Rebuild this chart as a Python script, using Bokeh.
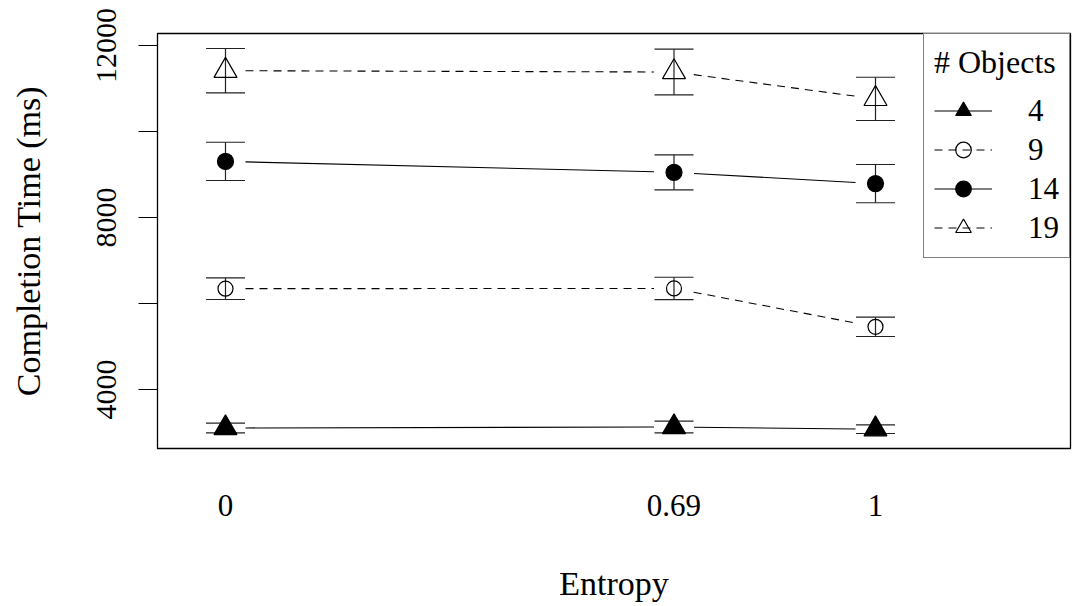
from bokeh.plotting import figure
from bokeh.models import (Range1d, FixedTicker, Whisker, ColumnDataSource,
                          Legend, LegendItem, TeeHead)
from bokeh.embed import file_html
from bokeh.resources import INLINE

# ---- data: mean completion time (ms) and error half-widths per entropy level ----
entropy = [0.0, 0.69, 1.0]
entropy_labels = ["0", "0.69", "1"]
objects = ["4", "9", "14", "19"]

mean_4 = [3105, 3128, 3078]
err_4 = [112, 135, 101]
mean_9 = [6345, 6350, 5457]
err_9 = [252, 260, 224]
mean_14 = [9305, 9051, 8788]
err_14 = [445, 407, 445]
mean_19 = [11414, 11383, 10759]
err_19 = [516, 531, 503]

y_ticks = [4000, 6000, 8000, 10000, 12000]
y_tick_labels = ["4000", "", "8000", "", "12000"]

# ---- layout ----
W, H = 1073, 606
BL, BR, BT, BB = 157, 3, 33, 158
FW, FH = W - BL - BR, H - BT - BB
X0, X1 = -0.1046, 1.3
Y0, Y1 = 2628, 12279
FONT = "Liberation Serif"
INK = "black"

p = figure(width=W, height=H, output_backend="svg", toolbar_location=None,
           x_range=Range1d(X0, X1), y_range=Range1d(Y0, Y1),
           min_border_left=BL, min_border_right=BR,
           min_border_top=BT, min_border_bottom=BB)
p.xgrid.visible = False
p.ygrid.visible = False
p.outline_line_color = INK
p.outline_line_width = 1.3
p.background_fill_color = "white"
p.border_fill_color = "white"

# x axis: labels only
xa = p.xaxis[0]
xa.ticker = FixedTicker(ticks=entropy)
xa.major_label_overrides = {e: l for e, l in zip(entropy, entropy_labels)}
xa.axis_line_color = None
xa.major_tick_line_color = None
xa.minor_tick_line_color = None
xa.major_label_standoff = 40
xa.major_label_text_font = FONT
xa.major_label_text_font_size = "31px"
xa.major_label_text_color = INK
xa.axis_label = "Entropy"
xa.axis_label_text_font = FONT
xa.axis_label_text_font_size = "34px"
xa.axis_label_text_font_style = "normal"
xa.axis_label_text_color = INK
xa.axis_label_standoff = 46

# y axis
ya = p.yaxis[0]
ya.ticker = FixedTicker(ticks=y_ticks)
ya.major_label_overrides = {t: l for t, l in zip(y_ticks, y_tick_labels)}
ya.major_label_orientation = "vertical"
ya.axis_line_color = INK
ya.major_tick_line_color = INK
ya.major_tick_in = 0
ya.major_tick_out = 19
ya.minor_tick_line_color = None
ya.major_label_standoff = 22
ya.major_label_text_font = FONT
ya.major_label_text_font_size = "30px"
ya.major_label_text_color = INK
ya.axis_label = "Completion Time (ms)"
ya.axis_label_text_font = FONT
ya.axis_label_text_font_size = "34px"
ya.axis_label_text_font_style = "normal"
ya.axis_label_text_color = INK
ya.axis_label_standoff = 48

# pixel scale, used to leave a gap between connecting lines and points
PX = FW / (X1 - X0)
PY = FH / (Y1 - Y0)
GAP = 20.0


def gapped_segments(xs, ys):
    x0s, y0s, x1s, y1s = [], [], [], []
    for i in range(len(xs) - 1):
        dx = (xs[i + 1] - xs[i]) * PX
        dy = (ys[i + 1] - ys[i]) * PY
        L = (dx * dx + dy * dy) ** 0.5
        f = GAP / L
        x0s.append(xs[i] + (xs[i + 1] - xs[i]) * f)
        y0s.append(ys[i] + (ys[i + 1] - ys[i]) * f)
        x1s.append(xs[i + 1] - (xs[i + 1] - xs[i]) * f)
        y1s.append(ys[i + 1] - (ys[i + 1] - ys[i]) * f)
    return dict(x0=x0s, y0=y0s, x1=x1s, y1=y1s)


series = [
    ("4", mean_4, err_4, "triangle", 23, INK, "solid"),
    ("9", mean_9, err_9, "circle", 15, None, "8 6"),
    ("14", mean_14, err_14, "circle", 16, INK, "solid"),
    ("19", mean_19, err_19, "triangle", 23, None, "8 6"),
]

items = []
for name, means, errs, marker, size, fill, dash in series:
    src = ColumnDataSource(dict(x=entropy, y=means,
                                lo=[m - e for m, e in zip(means, errs)],
                                hi=[m + e for m, e in zip(means, errs)]))
    wh = Whisker(base="x", lower="lo", upper="hi", source=src,
                 line_color="#222222", line_width=1.2,
                 upper_head=TeeHead(size=39, line_color="#222222", line_width=1.2),
                 lower_head=TeeHead(size=39, line_color="#222222", line_width=1.2))
    p.add_layout(wh)
    seg = p.segment(x0="x0", y0="y0", x1="x1", y1="y1",
                    source=ColumnDataSource(gapped_segments(entropy, means)),
                    line_color=INK, line_width=1.1, line_dash=dash)
    sc = p.scatter(x="x", y="y", source=src, marker=marker, size=size,
                   fill_color=fill, line_color=INK, line_width=1.2)
    items.append(LegendItem(label=name, renderers=[seg, sc]))

legend = Legend(items=items, location="top_right", title="# Objects")
legend.title_text_font = FONT
legend.title_text_font_size = "32px"
legend.title_text_font_style = "normal"
legend.title_text_color = INK
legend.title_standoff = 10
legend.label_text_font = FONT
legend.label_text_font_size = "31px"
legend.label_text_color = INK
legend.border_line_color = INK
legend.border_line_width = 1
legend.background_fill_color = "white"
legend.background_fill_alpha = 1.0
legend.margin = 0
legend.padding = 10
legend.spacing = 0
legend.glyph_width = 58
legend.glyph_height = 39
legend.label_height = 39
legend.label_standoff = 36
p.add_layout(legend)

open("out.html", "w").write(file_html(p, INLINE))
